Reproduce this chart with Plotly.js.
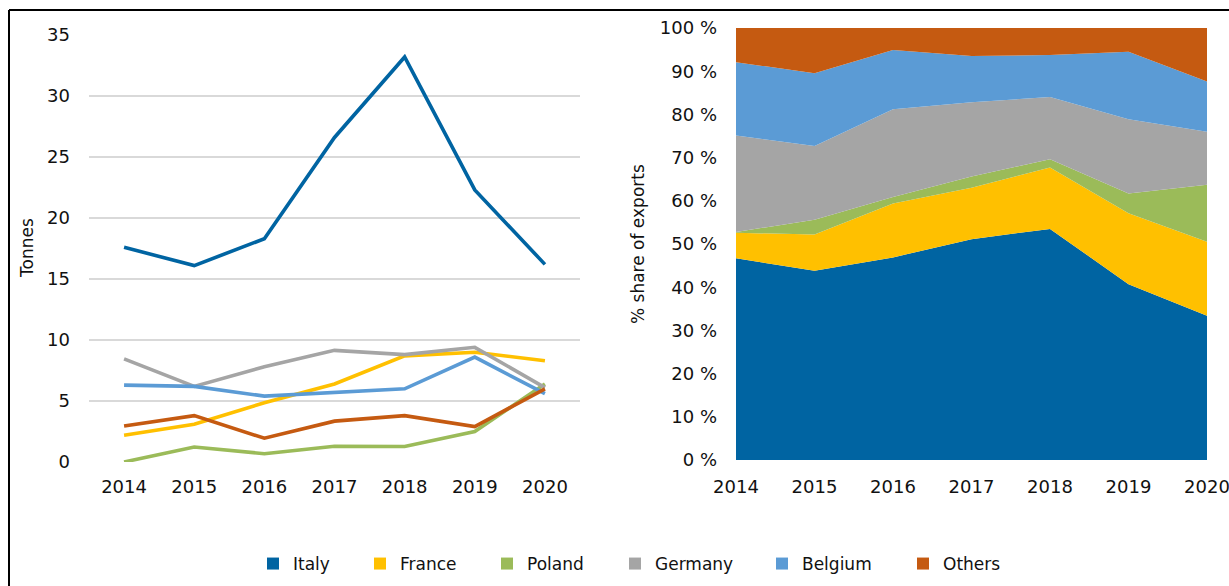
<!DOCTYPE html>
<html><head><meta charset="utf-8">
<script src="https://cdn.plot.ly/plotly-3.0.1.min.js"></script>
<style>html,body{margin:0;padding:0;background:#fff}#chart{width:1229px;height:586px}</style>
</head><body><div id="chart"></div>
<script>
const years = [2014, 2015, 2016, 2017, 2018, 2019, 2020];
const countries = ['Italy', 'France', 'Poland', 'Germany', 'Belgium', 'Others'];
const colors = ['#0064A2', '#FFC000', '#9BBB59', '#A5A5A5', '#5B9BD5', '#C55A11'];

// Tonnes (left chart)
const tonItaly   = [17.6, 16.1, 18.3, 26.6, 33.2, 22.3, 16.2];
const tonFrance  = [2.2, 3.1, 4.85, 6.4, 8.7, 9.0, 8.3];
const tonPoland  = [0.0, 1.23, 0.68, 1.29, 1.27, 2.5, 6.4];
const tonGermany = [8.45, 6.2, 7.8, 9.15, 8.8, 9.4, 6.1];
const tonBelgium = [6.3, 6.2, 5.4, 5.7, 6.0, 8.6, 5.6];
const tonOthers  = [2.95, 3.8, 1.95, 3.35, 3.8, 2.9, 6.0];

// % share of exports (right chart)
const shItaly   = [46.7, 43.8, 46.9, 51.1, 53.5, 40.7, 33.4];
const shFrance  = [5.9, 8.4, 12.5, 11.9, 14.2, 16.4, 17.1];
const shPoland  = [0.2, 3.4, 1.5, 2.6, 1.9, 4.6, 13.2];
const shGermany = [22.3, 17.1, 20.3, 17.2, 14.4, 17.2, 12.3];
const shBelgium = [17.0, 16.8, 13.7, 10.7, 9.75, 15.6, 11.6];
const shOthers  = [7.9, 10.5, 5.1, 6.5, 6.25, 5.5, 12.4];

const tons = [tonItaly, tonFrance, tonPoland, tonGermany, tonBelgium, tonOthers];
const shares = [shItaly, shFrance, shPoland, shGermany, shBelgium, shOthers];

const W = 1229, H = 586;
const px = v => v / W, py = v => 1 - v / H;

const FONT = 'DejaVu Sans, sans-serif';
const TXT = '#111';
const legendLeft = [253, 360, 487, 615, 762, 903];
const legendIds = ['legend', 'legend2', 'legend3', 'legend4', 'legend5', 'legend6'];

const traces = [];
countries.forEach((c, i) => {
  traces.push({x: years, y: tons[i], type: 'scatter', mode: 'lines', xaxis: 'x', yaxis: 'y',
    line: {color: colors[i], width: 3.6}, showlegend: false, hoverinfo: 'skip'});
});
countries.forEach((c, i) => {
  traces.push({x: years, y: shares[i], type: 'scatter', mode: 'lines', stackgroup: 'share',
    xaxis: 'x2', yaxis: 'y2', fillcolor: colors[i], line: {color: colors[i], width: 0},
    showlegend: false, hoverinfo: 'skip'});
});
countries.forEach((c, i) => {
  traces.push({x: [null], y: [null], type: 'bar', name: c, xaxis: 'x3', yaxis: 'y3',
    marker: {color: colors[i]}, showlegend: true, legend: legendIds[i]});
});

const layout = {
  width: W, height: H,
  margin: {l: 0, r: 0, t: 0, b: 0},
  paper_bgcolor: '#fff', plot_bgcolor: 'rgba(0,0,0,0)',
  font: {family: FONT, size: 18, color: TXT},
  showlegend: true,
  xaxis: {domain: [px(89), px(580)], range: [2013.5, 2020.5], tickmode: 'array', tickvals: years,
    ticktext: years.map(String), showgrid: false, zeroline: false, showline: false,
    ticks: '', ticklabelstandoff: 12, fixedrange: true},
  yaxis: {domain: [py(462), py(35)], range: [0, 35], dtick: 5, tick0: 0, showgrid: true,
    gridcolor: '#d9d9d9', gridwidth: 2, zeroline: false, showline: false, ticks: '',
    ticklabelstandoff: 18, fixedrange: true},
  xaxis2: {domain: [px(736), px(1207)], range: [2014, 2020], tickmode: 'array', tickvals: years,
    ticktext: years.map(String), showgrid: false, zeroline: false, showline: false,
    ticks: '', ticklabelstandoff: 14, ticklabeloverflow: 'allow', anchor: 'y2', fixedrange: true},
  yaxis2: {domain: [py(460), py(28)], range: [0, 100], tickmode: 'array',
    tickvals: [0,10,20,30,40,50,60,70,80,90,100],
    ticktext: ['0 %','10 %','20 %','30 %','40 %','50 %','60 %','70 %','80 %','90 %','100 %'],
    showgrid: false, zeroline: false, showline: false, ticks: '', ticklabelstandoff: 18,
    anchor: 'x2', fixedrange: true},
  xaxis3: {domain: [0, 0.001], visible: false, anchor: 'y3'},
  yaxis3: {domain: [0, 0.001], visible: false, anchor: 'x3'},
  annotations: [
    {text: 'Tonnes', xref: 'paper', yref: 'paper', x: px(27), y: py(248), textangle: -90,
     showarrow: false, xanchor: 'center', yanchor: 'middle', font: {family: FONT, size: 17, color: TXT}},
    {text: '% share of exports', xref: 'paper', yref: 'paper', x: px(638), y: py(244), textangle: -90,
     showarrow: false, xanchor: 'center', yanchor: 'middle', font: {family: FONT, size: 17, color: TXT}}
  ],
  shapes: [
    {type: 'line', xref: 'paper', yref: 'paper', x0: px(9), x1: 1.01, y0: py(10), y1: py(10),
     line: {color: '#000', width: 2}},
    {type: 'line', xref: 'paper', yref: 'paper', x0: px(9), x1: px(9), y0: py(10), y1: -0.01,
     line: {color: '#000', width: 2}}
  ]
};
legendIds.forEach((id, i) => {
  layout[id] = {orientation: 'h', x: px(legendLeft[i]), xanchor: 'left', y: py(564), yanchor: 'middle',
    font: {family: FONT, size: 17, color: TXT}, bgcolor: 'rgba(0,0,0,0)'};
});
Plotly.newPlot('chart', traces, layout, {displayModeBar: false, staticPlot: true});
</script></body></html>
